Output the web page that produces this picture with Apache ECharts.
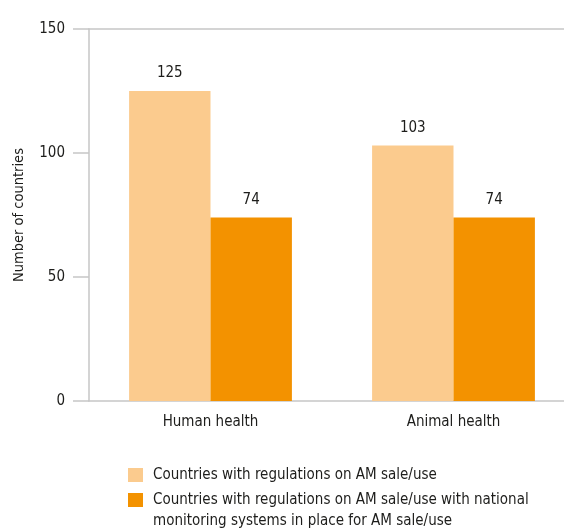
<!DOCTYPE html>
<html>
<head>
<meta charset="utf-8">
<script src="https://cdn.jsdelivr.net/npm/echarts@6/dist/echarts.min.js"></script>
<style>html,body{margin:0;padding:0;background:#fff;overflow:hidden;width:564px;height:532px}#c{width:575px;height:532px}</style>
</head>
<body>
<div id="c"></div>
<script>
var categories = ['Human health', 'Animal health'];
var seriesNames = ['Countries with regulations on AM sale/use', 'Countries with regulations on AM sale/use with national monitoring systems in place for AM sale/use'];
var legendLines = [
  ['Countries with regulations on AM sale/use'],
  ['Countries with regulations on AM sale/use with national', 'monitoring systems in place for AM sale/use']
];
var regulations = [125, 103];
var monitoring = [74, 74];
var yTicks = [0, 50, 100, 150];

var FONT = '"DejaVu Sans Condensed", "DejaVu Sans", sans-serif';
var TXT = '#1d1d1b';
var AX = '#c6c6c6';
var colors = ['#fbcb8e', '#f39200'];
var FS = 15;

function legendFor(i, top) {
  return {
    orient: 'vertical',
    left: 128,
    top: top,
    padding: 0,
    itemWidth: 15,
    itemHeight: 14,
    itemGap: 10,
    icon: 'rect',
    textStyle: {
      fontFamily: FONT, fontSize: FS, color: TXT, lineHeight: 21,
      rich: {t: {fontFamily: FONT, fontSize: FS, color: TXT, lineHeight: 21, padding: [0, 0, 0, 5]}}
    },
    formatter: function (name) {
      var lines = legendLines[seriesNames.indexOf(name)].slice();
      if (lines.length > 1) lines.unshift('\u00a0');
      return lines.map(function (s) { return '{t|' + s + '}'; }).join('\n');
    },
    data: [seriesNames[i]]
  };
}

var chart = echarts.init(document.getElementById('c'), null, {renderer: 'canvas'});
var option = {
  animation: false,
  textStyle: {fontFamily: FONT, color: TXT},
  grid: {left: 89, top: 29, bottom: 131, right: 0, containLabel: false},
  legend: [
    legendFor(0, 464.5),
    legendFor(1, 468.5)
  ],
  xAxis: [{
    type: 'category',
    data: categories,
    axisLine: {lineStyle: {color: AX, width: 1.5}},
    axisTick: {show: false},
    axisLabel: {fontFamily: FONT, fontSize: FS, color: TXT, margin: 14}
  }, {
    type: 'category',
    position: 'top',
    data: categories,
    axisLine: {lineStyle: {color: AX, width: 1.5}},
    axisTick: {show: false},
    axisLabel: {show: false}
  }],
  yAxis: {
    type: 'value',
    min: yTicks[0],
    max: yTicks[yTicks.length - 1],
    interval: yTicks[1] - yTicks[0],
    name: 'Number of countries',
    nameLocation: 'middle',
    nameGap: 62,
    nameTextStyle: {fontFamily: FONT, fontSize: 14.5, color: TXT},
    axisLine: {show: true, lineStyle: {color: AX, width: 1.5}},
    axisTick: {show: true, length: 16, lineStyle: {color: AX, width: 1.5}},
    axisLabel: {fontFamily: FONT, fontSize: FS, color: TXT, margin: 24},
    splitLine: {show: false}
  },
  series: [{
    name: seriesNames[0],
    type: 'bar',
    data: regulations,
    itemStyle: {color: colors[0]},
    barGap: '0%',
    barCategoryGap: '33%',
    label: {show: true, position: 'top', distance: 10, fontFamily: FONT, fontSize: FS, color: TXT}
  }, {
    name: seriesNames[1],
    type: 'bar',
    data: monitoring,
    itemStyle: {color: colors[1]},
    barGap: '0%',
    barCategoryGap: '33%',
    label: {show: true, position: 'top', distance: 10, fontFamily: FONT, fontSize: FS, color: TXT}
  }]
};
chart.setOption(option);
</script>
</body>
</html>
